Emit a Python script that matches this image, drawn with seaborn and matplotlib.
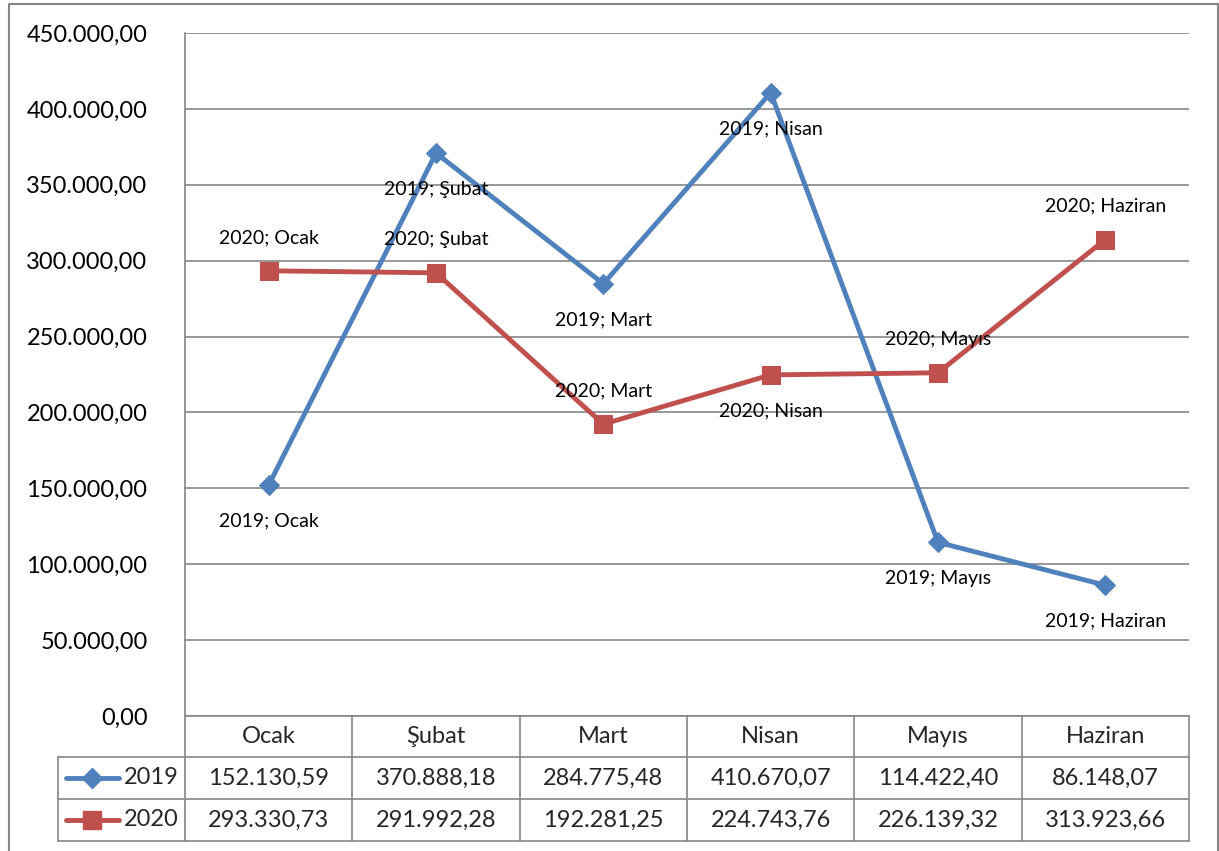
import matplotlib
matplotlib.use("Agg")
import matplotlib.pyplot as plt
import seaborn as sns
import pandas as pd

# ---- data ----
months = ["Ocak", "Şubat", "Mart", "Nisan", "Mayıs", "Haziran"]
years = ["2019", "2020"]
values_2019 = [152130.59, 370888.18, 284775.48, 410670.07, 114422.40, 86148.07]
values_2020 = [293330.73, 291992.28, 192281.25, 224743.76, 226139.32, 313923.66]
y_ticks = [0, 50000, 100000, 150000, 200000, 250000, 300000, 350000, 400000, 450000]

series = {"2019": values_2019, "2020": values_2020}
df = pd.DataFrame([
    {"month": m, "x": i, "year": yr, "value": v}
    for yr in years for i, (m, v) in enumerate(zip(months, series[yr]))
])

def tr(v):
    s = f"{v:,.2f}"
    return s.replace(",", "X").replace(".", ",").replace("X", ".")

# ---- style ----
sns.set_theme(style="white")
plt.rcParams["font.family"] = ["Lato", "DejaVu Sans"]
W, H = 1219, 851
colors = {"2019": "#4F81BD", "2020": "#C0504D"}
markers = {"2019": "D", "2020": "s"}
msizes = {"2019": 10.5, "2020": 13}
grid_c = "#868686"
fs_main = 17
fs_lab = 14

fig = plt.figure(figsize=(W / 100, H / 100), dpi=100)
fig.patch.set_facecolor("white")

# background axes in pixel coordinates for frame and table
bg = fig.add_axes([0, 0, 1, 1])
bg.set_xlim(0, W)
bg.set_ylim(H, 0)
bg.axis("off")

# main plot area
left, right, top, bottom = 185, 1189, 33, 716
ax = fig.add_axes([left / W, 1 - bottom / H, (right - left) / W, (bottom - top) / H])
ax.set_facecolor("none")

for yr in years:
    sub = df[df["year"] == yr]
    sns.lineplot(data=sub, x="x", y="value", color=colors[yr], marker=markers[yr],
                 markersize=msizes[yr], markeredgecolor=colors[yr], linewidth=3.5,
                 sort=False, ax=ax, legend=False, zorder=3)

ax.set_xlim(-0.5, len(months) - 0.5)
ax.set_ylim(0, 450000)
ax.set_yticks(y_ticks)
ax.set_yticklabels([tr(t) for t in y_ticks], fontsize=fs_main)
ax.set_xticks([])
ax.set_xlabel("")
ax.set_ylabel("")
ax.tick_params(axis="y", length=0, pad=27, colors="black")
ax.yaxis.grid(True, color=grid_c, linewidth=1.2)
ax.set_axisbelow(True)
for s in ["top", "right", "bottom"]:
    ax.spines[s].set_visible(False)
ax.spines["left"].set_color(grid_c)
ax.spines["left"].set_linewidth(1.2)

# data labels
label_pos = {"2019": ["below"] * 6,
             "2020": ["above", "above", "above", "below", "above", "above"]}
for yr in years:
    for i, (m, v) in enumerate(zip(months, series[yr])):
        off = 24 if label_pos[yr][i] == "above" else -26
        ax.annotate(f"{yr}; {m}", (i, v), xytext=(0, off), textcoords="offset points",
                    ha="center", va="center", fontsize=fs_lab, color="black", zorder=5)

# ---- data table ----
lw = 1.2
col_w = (right - left) / len(months)
row_edges = [716, 757, 799, 841]
leg_left = 58
bg.plot([left, right], [row_edges[0]] * 2, color=grid_c, lw=lw)
for yv in row_edges[1:]:
    bg.plot([leg_left, right], [yv] * 2, color=grid_c, lw=lw)
for j in range(len(months) + 1):
    xv = left + j * col_w
    bg.plot([xv, xv], [row_edges[0], row_edges[-1]], color=grid_c, lw=lw)
bg.plot([leg_left, leg_left], [row_edges[1], row_edges[-1]], color=grid_c, lw=lw)

for j, m in enumerate(months):
    cx = left + (j + 0.5) * col_w
    bg.text(cx, (row_edges[0] + row_edges[1]) / 2, m, ha="center", va="center", fontsize=fs_main)
    for r, yr in enumerate(years):
        cy = (row_edges[r + 1] + row_edges[r + 2]) / 2
        bg.text(cx, cy, tr(series[yr][j]), ha="center", va="center", fontsize=fs_main)

for r, yr in enumerate(years):
    cy = (row_edges[r + 1] + row_edges[r + 2]) / 2
    bg.plot([66, 119], [cy, cy], color=colors[yr], lw=3.5, solid_capstyle="round")
    bg.plot([92], [cy], marker=markers[yr], markersize=msizes[yr], color=colors[yr],
            markeredgecolor=colors[yr])
    bg.text(124, cy, yr, ha="left", va="center", fontsize=fs_main)

# outer frame
bg.plot([9, 9, 1218, 1218], [H + 5, 4, 4, H + 5], color=grid_c, lw=1.5)

fig.savefig("out.png", dpi=100, facecolor="white")
